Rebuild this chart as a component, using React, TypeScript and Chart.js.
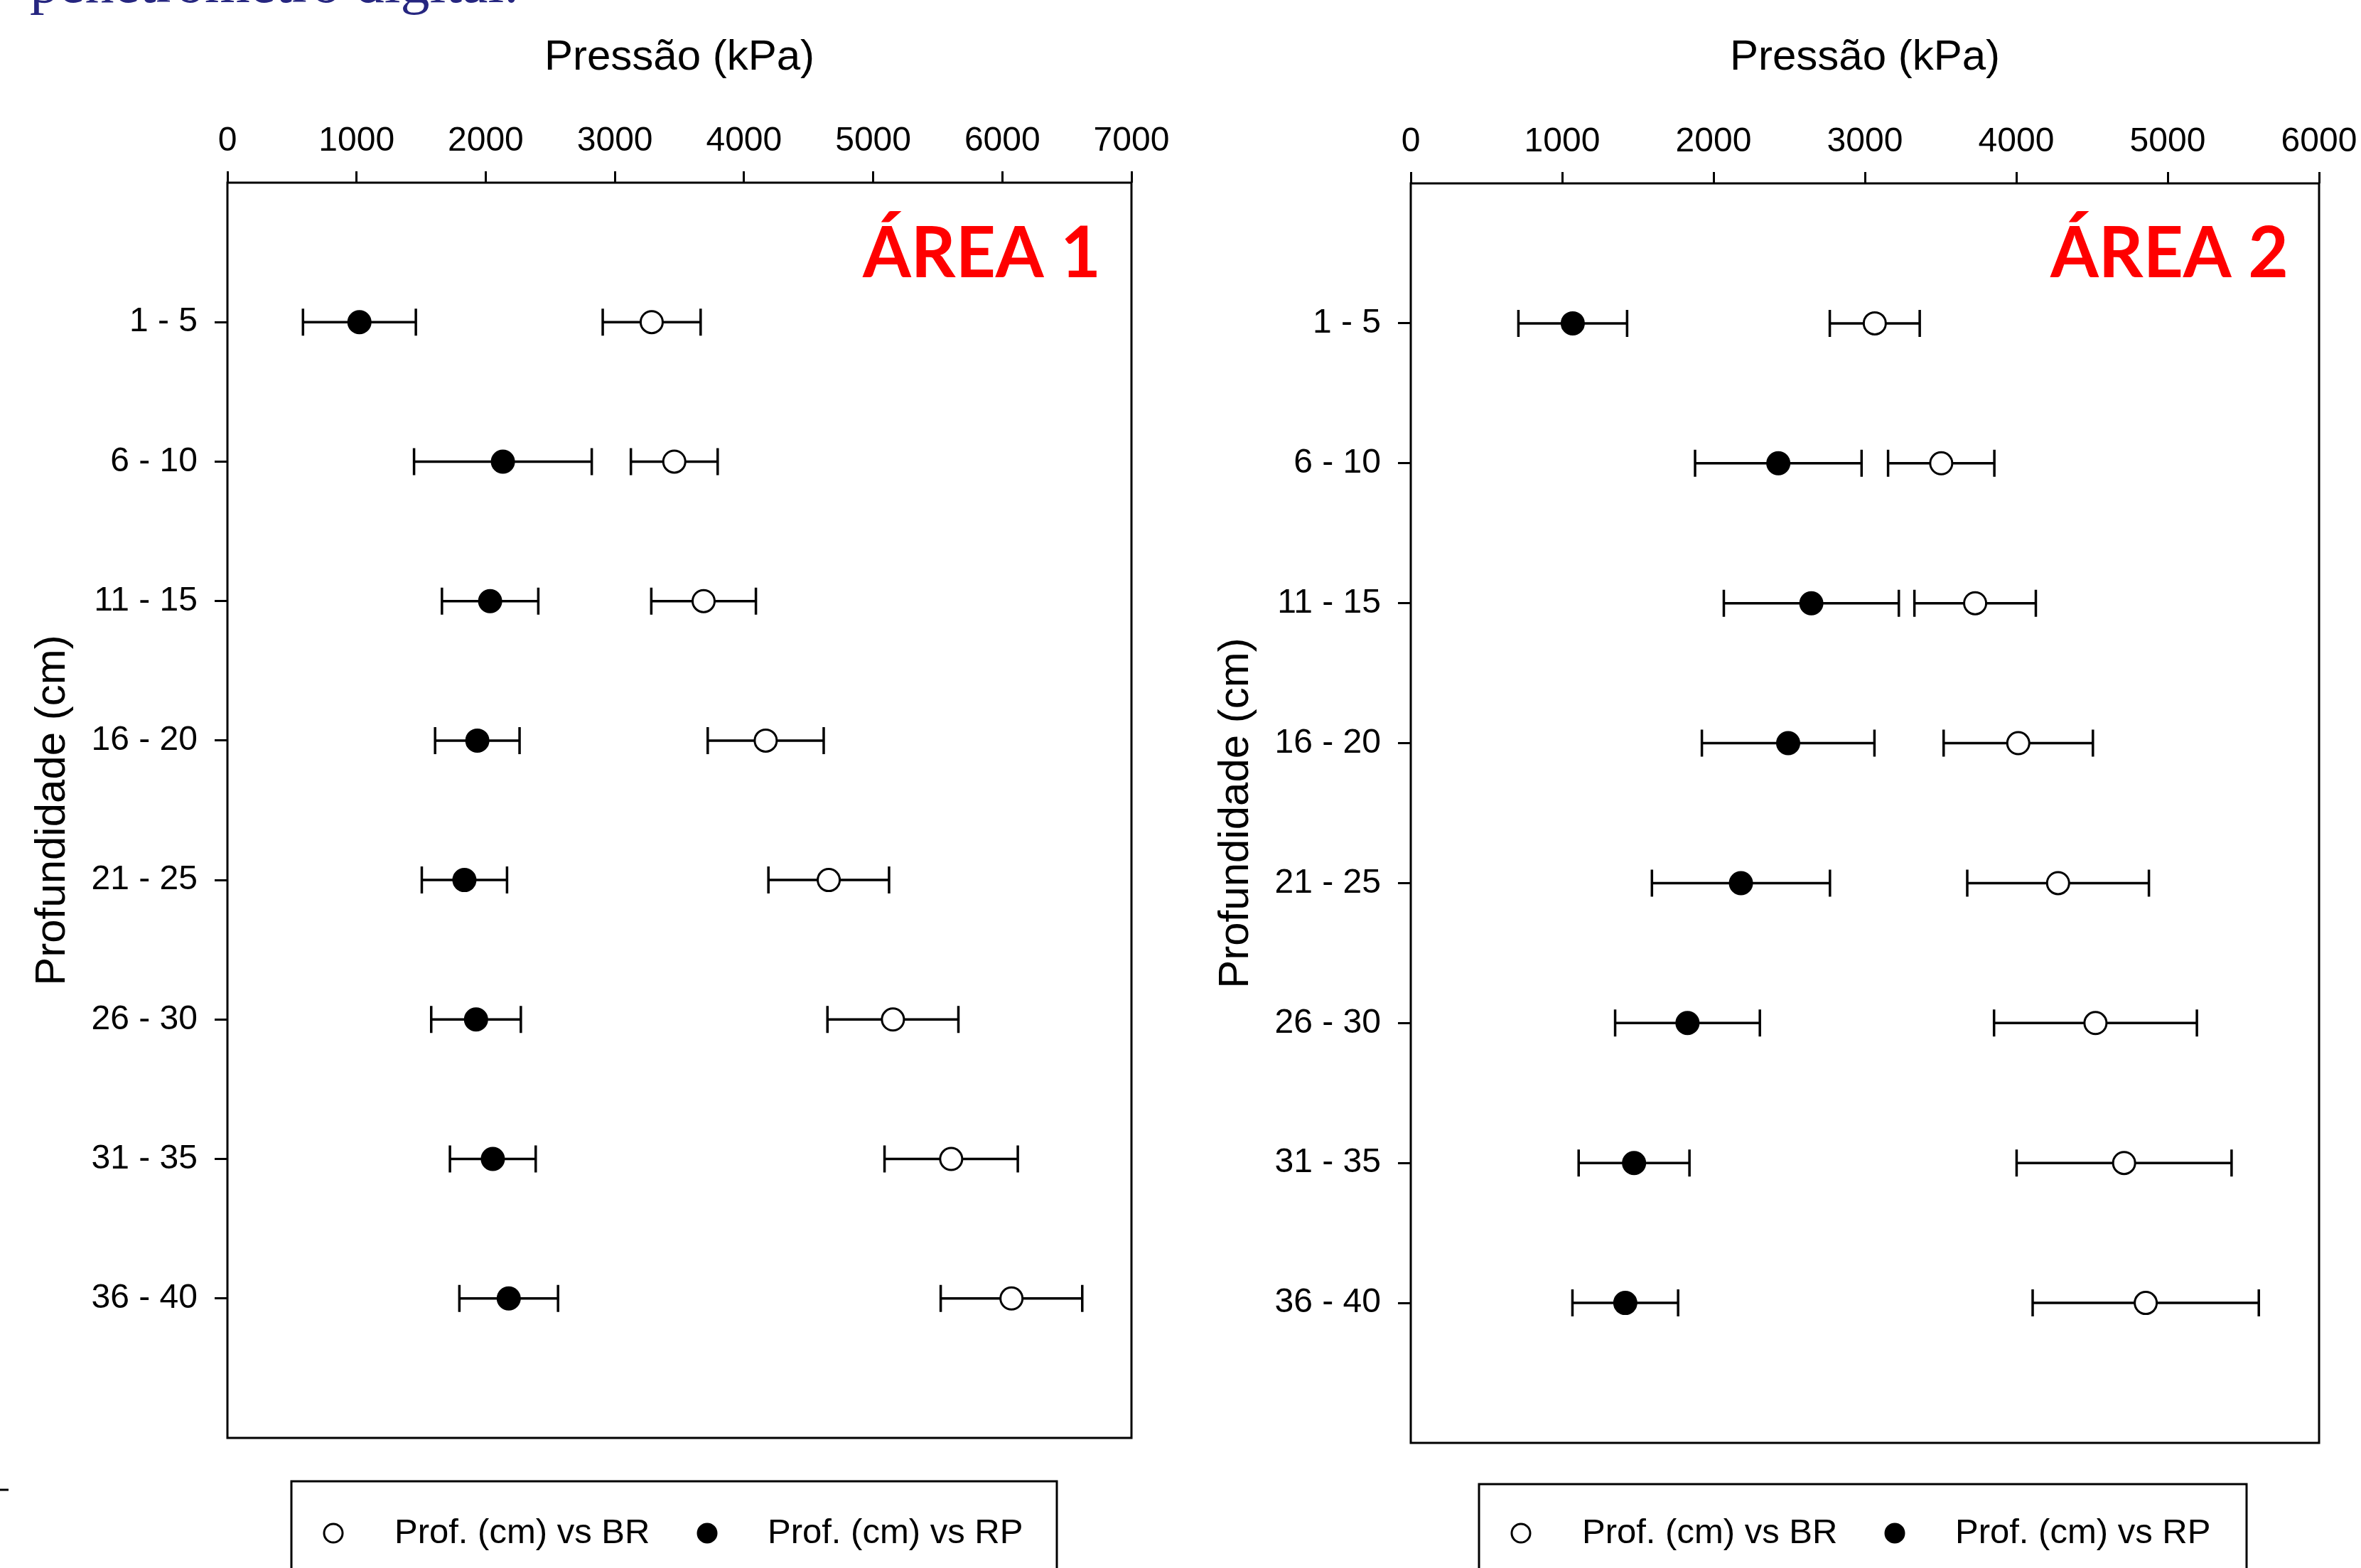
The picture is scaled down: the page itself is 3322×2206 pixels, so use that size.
import React, { useEffect, useRef } from 'react';
import { Chart, registerables } from 'chart.js';

Chart.register(...registerables);

// ---------- data ----------
const depthLabels = ['1 - 5', '6 - 10', '11 - 15', '16 - 20', '21 - 25', '26 - 30', '31 - 35', '36 - 40'];
const seriesNames = ['Prof. (cm) vs BR', 'Prof. (cm) vs RP'];
const xAxisTitle = 'Pressão (kPa)';
const yAxisTitle = 'Profundidade (cm)';
const areaNames = ['ÁREA 1', 'ÁREA 2'];
const captionText = 'penetrômetro digital.';

// Área 1
const area1BR = [3285, 3460, 3687, 4168, 4656, 5153, 5604, 6071];
const area1BRErr = [379, 336, 405, 449, 467, 507, 516, 548];
const area1RP = [1022, 2133, 2034, 1935, 1835, 1925, 2055, 2178];
const area1RPErr = [437, 688, 373, 327, 330, 347, 332, 382];
const area1XMax = 7000;

// Área 2
const area2BR = [3065, 3504, 3728, 4013, 4276, 4523, 4712, 4855];
const area2BRErr = [297, 351, 401, 493, 600, 670, 710, 747];
const area2RP = [1070, 2428, 2646, 2493, 2181, 1828, 1475, 1417];
const area2RPErr = [359, 550, 578, 570, 588, 478, 366, 349];
const area2XMax = 6000;

const xStep = 1000;

const FONT = "'Liberation Sans', Arial, Helvetica, sans-serif";
Chart.defaults.font.family = FONT;

// ---------- plugins ----------
const errorBarPlugin = {
  id: 'errorBars',
  beforeDatasetsDraw(chart: any) {
    const { ctx } = chart;
    const xs = chart.scales.x;
    const ys = chart.scales.y;
    ctx.save();
    ctx.strokeStyle = '#000';
    ctx.lineWidth = 3.5;
    chart.data.datasets.forEach((ds: any) => {
      ds.data.forEach((p: any, i: number) => {
        const e = ds.errors[i];
        const x1 = xs.getPixelForValue(p.x - e);
        const x2 = xs.getPixelForValue(p.x + e);
        const y = ys.getPixelForValue(p.y);
        const cap = 19;
        ctx.beginPath();
        ctx.moveTo(x1, y);
        ctx.lineTo(x2, y);
        ctx.moveTo(x1, y - cap);
        ctx.lineTo(x1, y + cap);
        ctx.moveTo(x2, y - cap);
        ctx.lineTo(x2, y + cap);
        ctx.stroke();
      });
    });
    ctx.restore();
  },
};

const decorPlugin = {
  id: 'decor',
  afterDraw(chart: any, _args: any, opts: any) {
    const { ctx, chartArea: a } = chart;
    // frame
    ctx.save();
    ctx.strokeStyle = '#000';
    ctx.lineWidth = 3;
    ctx.strokeRect(a.left, a.top, a.right - a.left, a.bottom - a.top);
    ctx.restore();

    // area label
    ctx.save();
    ctx.font = "bold 100px Lato, 'Open Sans', sans-serif";
    ctx.fillStyle = '#ff0000';
    const w = ctx.measureText(opts.label).width;
    const sx = opts.labelWidth / w;
    ctx.translate(a.right - opts.labelRight, opts.labelBaseline);
    ctx.scale(sx, 1);
    ctx.textAlign = 'right';
    ctx.textBaseline = 'alphabetic';
    ctx.fillText(opts.label, 0, 0);
    ctx.restore();

    // legend box
    const lg = opts.legend;
    ctx.save();
    ctx.strokeStyle = '#000';
    ctx.lineWidth = 3;
    ctx.strokeRect(lg.left, lg.top, lg.width, 400);
    const cy = lg.top + lg.rowOffset;
    const offs = [[59, 145], [585, 670]];
    chart.data.datasets.forEach((ds: any, i: number) => {
      const [mx, tx] = offs[i];
      ctx.beginPath();
      ctx.arc(lg.left + mx, cy, 13, 0, Math.PI * 2);
      ctx.fillStyle = ds.pointBackgroundColor;
      ctx.fill();
      ctx.lineWidth = 3;
      ctx.strokeStyle = '#000';
      ctx.stroke();
      ctx.fillStyle = '#000';
      ctx.font = `49px ${FONT}`;
      ctx.textAlign = 'left';
      ctx.textBaseline = 'middle';
      ctx.fillText(ds.label, lg.left + tx, cy);
    });
    ctx.restore();

    // page caption fragment + small dash (left panel only)
    if (opts.caption) {
      ctx.save();
      ctx.font = "82px 'Liberation Serif', 'Times New Roman', serif";
      ctx.fillStyle = '#262680';
      ctx.textAlign = 'left';
      ctx.textBaseline = 'alphabetic';
      ctx.fillText(opts.caption, 42, 3);
      ctx.strokeStyle = '#000';
      ctx.lineWidth = 3;
      ctx.beginPath();
      ctx.moveTo(0, 2096);
      ctx.lineTo(12, 2096);
      ctx.stroke();
      ctx.restore();
    }
  },
};

// ---------- panel ----------
type PanelSpec = {
  br: number[];
  brErr: number[];
  rp: number[];
  rpErr: number[];
  xMax: number;
  label: string;
  canvasLeft: number;
  canvasWidth: number;
  areaLeft: number;
  areaTop: number;
  padRight: number;
  padBottom: number;
  yTitlePad: number;
  legend: { left: number; top: number; width: number; rowOffset: number };
  caption?: string;
};

function makeConfig(p: PanelSpec): any {
  const tickFont = { size: 48, family: FONT };
  const titleFont = { size: 60, family: FONT };
  return {
    type: 'scatter',
    data: {
      datasets: [
        {
          label: seriesNames[0],
          data: p.br.map((v, i) => ({ x: v, y: i + 1 })),
          errors: p.brErr,
          pointStyle: 'circle',
          pointRadius: 15.5,
          pointBorderWidth: 3,
          pointBorderColor: '#000',
          pointBackgroundColor: '#fff',
          borderColor: '#000',
          backgroundColor: '#fff',
          showLine: false,
        },
        {
          label: seriesNames[1],
          data: p.rp.map((v, i) => ({ x: v, y: i + 1 })),
          errors: p.rpErr,
          pointStyle: 'circle',
          pointRadius: 15.5,
          pointBorderWidth: 3,
          pointBorderColor: '#000',
          pointBackgroundColor: '#000',
          borderColor: '#000',
          backgroundColor: '#000',
          showLine: false,
        },
      ],
    },
    options: {
      responsive: false,
      animation: false,
      events: [],
      devicePixelRatio: 1,
      layout: { padding: { left: 0, top: 0, right: p.padRight, bottom: p.padBottom } },
      plugins: {
        legend: { display: false },
        tooltip: { enabled: false },
        decor: {
          label: p.label,
          labelWidth: 335,
          labelRight: 43,
          labelBaseline: 390,
          legend: p.legend,
          caption: p.caption,
        },
      },
      scales: {
        x: {
          type: 'linear',
          position: 'top',
          min: 0,
          max: p.xMax,
          ticks: {
            stepSize: xStep,
            color: '#000',
            font: tickFont,
            padding: 13,
            maxRotation: 0,
            autoSkip: false,
            callback: (v: any) => String(v),
          },
          grid: {
            drawOnChartArea: false,
            drawTicks: true,
            tickLength: 16,
            tickWidth: 3,
            tickColor: '#000',
            color: '#000',
          },
          border: { display: false },
          title: {
            display: true,
            text: xAxisTitle,
            color: '#000',
            font: titleFont,
            padding: { top: 45, bottom: 0 },
          },
          afterFit: (s: any) => {
            s.height = p.areaTop;
            s.paddingLeft = 0;
            s.paddingRight = 0;
          },
        },
        y: {
          type: 'linear',
          min: 0,
          max: depthLabels.length + 1,
          reverse: true,
          afterBuildTicks: (s: any) => {
            s.ticks = depthLabels.map((_, i) => ({ value: i + 1 }));
          },
          ticks: {
            color: '#000',
            font: tickFont,
            padding: 24,
            autoSkip: false,
            callback: (v: any) => depthLabels[Math.round(v) - 1] ?? '',
          },
          grid: {
            drawOnChartArea: false,
            drawTicks: true,
            tickLength: 18,
            tickWidth: 3,
            tickColor: '#000',
            color: '#000',
          },
          border: { display: false },
          title: {
            display: true,
            text: yAxisTitle,
            color: '#000',
            font: titleFont,
            padding: { top: p.yTitlePad, bottom: 0 },
          },
          afterFit: (s: any) => {
            s.width = p.areaLeft;
            s.paddingTop = 0;
            s.paddingBottom = 0;
          },
        },
      },
    },
    plugins: [errorBarPlugin, decorPlugin],
  };
}

function Panel({ spec }: { spec: PanelSpec }) {
  const ref = useRef<HTMLCanvasElement | null>(null);
  useEffect(() => {
    if (!ref.current) return;
    const chart = new Chart(ref.current, makeConfig(spec));
    return () => chart.destroy();
  }, [spec]);
  return (
    <canvas
      ref={ref}
      width={spec.canvasWidth}
      height={2206}
      style={{ position: 'absolute', left: spec.canvasLeft, top: 0, width: spec.canvasWidth, height: 2206 }}
    />
  );
}

const leftSpec: PanelSpec = {
  br: area1BR,
  brErr: area1BRErr,
  rp: area1RP,
  rpErr: area1RPErr,
  xMax: area1XMax,
  label: areaNames[0],
  canvasLeft: 0,
  canvasWidth: 1660,
  areaLeft: 320,
  areaTop: 257,
  padRight: 1660 - 1592,
  padBottom: 2206 - 2023,
  yTitlePad: 38,
  legend: { left: 410, top: 2084, width: 1077, rowOffset: 73 },
  caption: captionText,
};

const rightSpec: PanelSpec = {
  br: area2BR,
  brErr: area2BRErr,
  rp: area2RP,
  rpErr: area2RPErr,
  xMax: area2XMax,
  label: areaNames[1],
  canvasLeft: 1660,
  canvasWidth: 1662,
  areaLeft: 325,
  areaTop: 258,
  padRight: 1662 - 1603,
  padBottom: 2206 - 2030,
  yTitlePad: 43,
  legend: { left: 421, top: 2088, width: 1080, rowOffset: 69 },
};

export default function App() {
  return (
    <div
      style={{
        position: 'absolute',
        left: 0,
        top: 0,
        width: 3322,
        height: 2206,
        background: '#fff',
        overflow: 'hidden',
      }}
    >
      <Panel spec={leftSpec} />
      <Panel spec={rightSpec} />
    </div>
  );
}
